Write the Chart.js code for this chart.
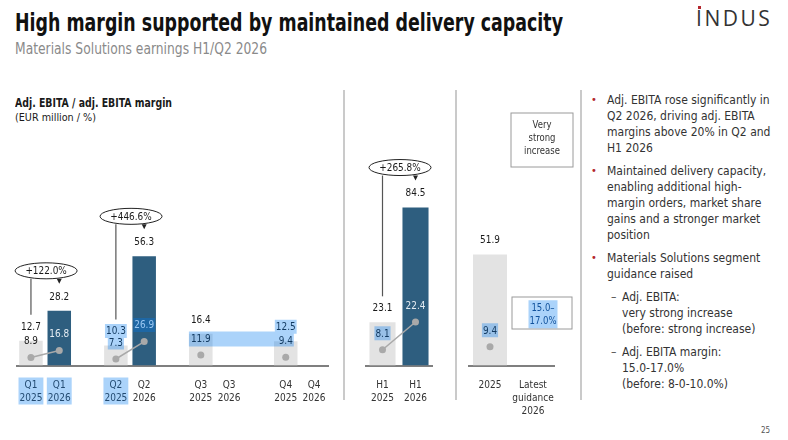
<!DOCTYPE html>
<html>
<head>
<meta charset="utf-8">
<script src="https://cdn.jsdelivr.net/npm/chart.js@4.4.1/dist/chart.umd.min.js"></script>
<style>
  body { margin: 0; width: 788px; height: 440px; overflow: hidden; background: #fff; position: relative;
         font-family: "Liberation Sans Narrow", "DejaVu Sans Condensed", sans-serif; color: #1a1a1a; }
  .abs { position: absolute; white-space: nowrap; }
  .fit { transform-origin: 0 0; }
  #title { left: 15px; top: 8px; font-size: 25px; font-weight: bold; color: #111; }
  #subtitle { left: 15px; top: 40px; font-size: 15px; color: #8a8a8a; }
  #logo { left: 696px; top: 4px; font-family: "Open Sans", sans-serif; font-size: 21px; letter-spacing: 2.5px; color: #333; }
  #logo .i { position: relative; }
  #logo .i::before { content: ""; position: absolute; left: 2px; top: 2px; width: 3px; height: 3px; background: #b3262d; }
  #head1 { left: 15px; top: 96px; font-size: 11.5px; font-weight: bold; }
  #head2 { left: 15px; top: 111px; font-size: 11px; }
  .sep { position: absolute; width: 2px; background: #cacaca; top: 90px; height: 310px; }
  canvas { position: absolute; top: 90px; }
  #notes { left: 591px; top: 92px; font-size: 12px; line-height: 16px; color: #333; }
  .blt { position: relative; padding-left: 16px; margin-bottom: 7px; }
  .blt::before { content: "\2022"; position: absolute; left: 0; top: 0; color: #b3262d; font-size: 11px; }
  .sub { position: relative; padding-left: 31px; margin-bottom: 7px; }
  .sub::before { content: "\2013"; position: absolute; left: 20px; top: 0; color: #555; }
  #page { left: 761px; top: 426px; font-size: 8px; color: #555; }
</style>
</head>
<body>
<div id="title" class="abs fit" data-w="548">High margin supported by maintained delivery capacity</div>
<div id="subtitle" class="abs fit" data-w="252">Materials Solutions earnings H1/Q2 2026</div>
<div id="logo" class="abs"><span class="i">I</span>NDUS</div>
<div id="head1" class="abs fit" data-w="157">Adj. EBITA / adj. EBITA margin</div>
<div id="head2" class="abs fit" data-w="81">(EUR million / %)</div>

<canvas id="quarterChart" width="345" height="340" style="left:0px;width:345px;height:340px"></canvas>
<canvas id="halfChart" width="110" height="340" style="left:345px;width:110px;height:340px"></canvas>
<canvas id="yearChart" width="120" height="340" style="left:458px;width:120px;height:340px"></canvas>

<div class="sep" style="left:343px"></div>
<div class="sep" style="left:455px"></div>
<div class="sep" style="left:580px"></div>

<div id="notes" class="abs">
  <div class="blt">Adj. EBITA rose significantly in<br>Q2 2026, driving adj. EBITA<br>margins above 20% in Q2 and<br>H1 2026</div>
  <div class="blt">Maintained delivery capacity,<br>enabling additional high-<br>margin orders, market share<br>gains and a stronger market<br>position</div>
  <div class="blt">Materials Solutions segment<br>guidance raised</div>
  <div class="sub">Adj. EBITA:<br>very strong increase<br>(before: strong increase)</div>
  <div class="sub">Adj. EBITA margin:<br>15.0-17.0%<br>(before: 8-0-10.0%)</div>
</div>
<div id="page" class="abs">25</div>

<script>
// quarters: adj. EBITA (EUR m) and margin (%)
const quarters = ['Q1', 'Q2', 'Q3', 'Q4'];
const ebita2025 = [12.7, 10.3, 16.4, 12.5];
const ebita2026 = [28.2, 56.3, null, null];
const margin2025 = [8.9, 7.3, 11.9, 9.4];
const margin2026 = [16.8, 26.9, null, null];
const quarterGrowth = ['+122.0%', '+446.6%', null, null];

// half years
const halfLabels = [['H1', '2025'], ['H1', '2026']];
const ebitaH1 = [23.1, 84.5];
const marginH1 = [8.1, 22.4];
const growthH1 = '+265.8%';

// full year and guidance
const yearLabels = [['2025'], ['Latest', 'guidance', '2026']];
const ebitaYear = [51.9, null];
const marginYear = [9.4, null];
const guidanceEbita = ['Very', 'strong', 'increase'];
const guidanceMargin = ['15.0–', '17.0%'];

const FONT = '"Liberation Sans Narrow", "DejaVu Sans Condensed", sans-serif';
const GREY = '#e3e3e3';
const BLUE = '#2e5e7f';
const SELECT = 'rgba(0,120,240,0.33)';
const SQ = 0.9; // horizontal squeeze for canvas labels

// squeeze slide texts to the reference widths
document.querySelectorAll('.fit').forEach(el => {
  const w = el.getBoundingClientRect().width;
  el.style.transform = 'scaleX(' + (el.dataset.w / w) + ')';
});

// quarter slots: 2025, 2026, gap, ...
const qLabels = [], qEbita = [], qMargin = [], qColors = [], qGrowth = [];
quarters.forEach((q, i) => {
  if (i > 0) { qLabels.push(''); qEbita.push(null); qMargin.push(null); qColors.push(GREY); }
  const k = qLabels.length;
  qLabels.push([q, '2025'], [q, '2026']);
  qEbita.push(ebita2025[i], ebita2026[i]);
  qMargin.push(margin2025[i], margin2026[i]);
  qColors.push(GREY, BLUE);
  if (quarterGrowth[i]) qGrowth.push({ from: k, to: k + 1, text: quarterGrowth[i] });
});

function say(ctx, t, x, y) {
  ctx.save();
  ctx.translate(x, y);
  ctx.scale(SQ, 1);
  ctx.fillText(t, 0, 0);
  ctx.restore();
}

function textBox(ctx, lines, x, y, lh, sq) {
  let w = 0;
  lines.forEach(t => { w = Math.max(w, ctx.measureText(t).width * sq); });
  const h = lines.length * lh;
  return { x: x - w / 2 - 1, y: y - lh / 2 - 1, w: w + 2, h: h + 1 };
}

const slideLabels = {
  id: 'slideLabels',
  afterDraw(chart, args, opts) {
    const ctx = chart.ctx;
    const pts = chart.getDatasetMeta(0).data;
    const bars = chart.getDatasetMeta(1).data;
    const margin = chart.data.datasets[0].data;
    const ebita = chart.data.datasets[1].data;
    const colors = chart.data.datasets[1].backgroundColor;
    const sel = opts.select || {};
    const rects = [];
    const valueY = [], marginBox = [];
    ctx.save();
    ctx.font = '11px ' + FONT;
    ctx.textAlign = 'center';
    ctx.textBaseline = 'middle';

    ebita.forEach((v, i) => {
      if (v == null) return;
      const b = bars[i];
      const y = b.y - 14;
      valueY[i] = y;
      ctx.fillStyle = '#1a1a1a';
      say(ctx, v.toFixed(1), b.x, y);
      if ((sel.values || []).includes(i)) rects.push(textBox(ctx, [v.toFixed(1)], b.x, y, 13, SQ));
    });

    margin.forEach((v, i) => {
      if (v == null) return;
      const p = pts[i];
      const y = p.y - 16;
      ctx.fillStyle = colors[i] === BLUE ? '#e4ecf2' : '#1a1a1a';
      say(ctx, v.toFixed(1), p.x, y);
      marginBox[i] = textBox(ctx, [v.toFixed(1)], p.x, y, 13, SQ);
      if ((sel.margins || []).includes(i)) rects.push(marginBox[i]);
    });

    if (sel.band) {
      const a = marginBox[sel.band[0]], b = marginBox[sel.band[1]];
      rects.push({ x: a.x - 1, y: a.y, w: b.x + b.w - a.x + 1, h: a.h + 1 });
    }

    // growth ellipses
    (opts.growth || []).forEach(g => {
      const b0 = bars[g.from], b1 = bars[g.to];
      const cx = (b0.x + b1.x) / 2 + 1;
      const cy = b1.y - 40;
      const rx = 31, ry = 8;
      ctx.strokeStyle = '#555';
      ctx.lineWidth = 1.2;
      ctx.beginPath();
      ctx.moveTo(b0.x, cy + ry);
      ctx.lineTo(b0.x, valueY[g.from] - 12);
      ctx.stroke();
      ctx.fillStyle = '#222';
      ctx.beginPath();
      ctx.moveTo(b1.x - 2.5, cy + ry);
      ctx.lineTo(b1.x + 2.5, cy + ry);
      ctx.lineTo(b1.x, cy + ry + 5);
      ctx.closePath();
      ctx.fill();
      ctx.beginPath();
      ctx.ellipse(cx, cy, rx, ry, 0, 0, Math.PI * 2);
      ctx.fillStyle = '#fff';
      ctx.fill();
      ctx.strokeStyle = '#222';
      ctx.lineWidth = 1;
      ctx.stroke();
      ctx.fillStyle = '#1a1a1a';
      say(ctx, g.text, cx, cy + 0.5);
    });

    // guidance boxes
    if (opts.guidance) {
      const xs = chart.scales.x;
      const area = chart.chartArea;
      const gx = xs.getPixelForTick(opts.guidance.index) + 9;
      ctx.font = '10.5px ' + FONT;
      ctx.strokeStyle = '#9a9a9a';
      ctx.lineWidth = 1;
      let top = area.top + 18;
      ctx.strokeRect(gx - 31, top, 62, 54);
      ctx.fillStyle = '#333';
      opts.guidance.ebita.forEach((t, j) => say(ctx, t, gx, top + 12 + j * 13.3));
      top = area.bottom - 68.5;
      ctx.strokeRect(gx - 30, top, 60, 32);
      ctx.fillStyle = '#1a3f73';
      opts.guidance.margin.forEach((t, j) => say(ctx, t, gx + 1, top + 11 + j * 13.5));
      rects.push(textBox(ctx, opts.guidance.margin, gx + 1, top + 11, 13.5, SQ));
    }

    // tick label selection
    const xs = chart.scales.x;
    ctx.font = '10px ' + FONT;
    (sel.ticks || []).forEach(i => {
      const lbl = chart.data.labels[i];
      rects.push(textBox(ctx, lbl, xs.getPixelForTick(i), xs.top + 13 + 6.5, 13, 1));
    });

    if (rects.length) {
      ctx.fillStyle = SELECT;
      ctx.beginPath();
      rects.forEach(r => ctx.rect(r.x, r.y, r.w, r.h));
      ctx.fill();
    }
    ctx.restore();
  }
};

function makeChart(id, cfg) {
  return new Chart(document.getElementById(id), {
    data: {
      labels: cfg.labels,
      datasets: [
        { type: 'line', data: cfg.margin, yAxisID: 'y2', order: 0, borderColor: '#a9a9a9', borderWidth: 1.5,
          pointRadius: 3.5, pointBackgroundColor: '#a9a9a9', pointBorderWidth: 0, spanGaps: false },
        { type: 'bar', data: cfg.ebita, yAxisID: 'y', order: 1, backgroundColor: cfg.colors,
          barPercentage: cfg.barPct, categoryPercentage: 1 }
      ]
    },
    options: {
      responsive: false,
      animation: false,
      events: [],
      layout: { padding: cfg.padding },
      plugins: {
        legend: { display: false },
        tooltip: { enabled: false },
        slideLabels: cfg.extras
      },
      scales: {
        x: {
          grid: { display: false, drawTicks: false },
          border: { display: true, color: '#7f7f7f', width: 2 },
          ticks: { color: '#333', font: { family: FONT, size: 10, lineHeight: 1.3 }, padding: 13,
                   maxRotation: 0, autoSkip: false },
          afterFit: s => { s.height = 55; }
        },
        y: { display: false, min: 0, max: cfg.yMax },
        y2: { display: false, min: 0, max: cfg.y2Max }
      }
    },
    plugins: [slideLabels]
  });
}

makeChart('quarterChart', {
  labels: qLabels, ebita: qEbita, margin: qMargin, colors: qColors,
  barPct: 0.83, yMax: 139.5, y2Max: 304,
  padding: { left: 16.8, right: 16.8, top: 5, bottom: 9.5 },
  extras: { growth: qGrowth, select: { values: [3, 9], margins: [3, 4], ticks: [0, 1, 3], band: [6, 9] } }
});

makeChart('halfChart', {
  labels: halfLabels, ebita: ebitaH1, margin: marginH1, colors: [GREY, BLUE],
  barPct: 0.79, yMax: 144.7, y2Max: 139.4,
  padding: { left: 21, right: 23, top: 5, bottom: 9.5 },
  extras: { growth: [{ from: 0, to: 1, text: growthH1 }], select: { margins: [0] } }
});

makeChart('yearChart', {
  labels: yearLabels, ebita: ebitaYear, margin: marginYear, colors: [GREY, GREY],
  barPct: 0.79, yMax: 126.4, y2Max: 135,
  padding: { left: 10.5, right: 23.5, top: 5, bottom: 9.5 },
  extras: { guidance: { index: 1, ebita: guidanceEbita, margin: guidanceMargin }, select: { margins: [0] } }
});
</script>
</body>
</html>
